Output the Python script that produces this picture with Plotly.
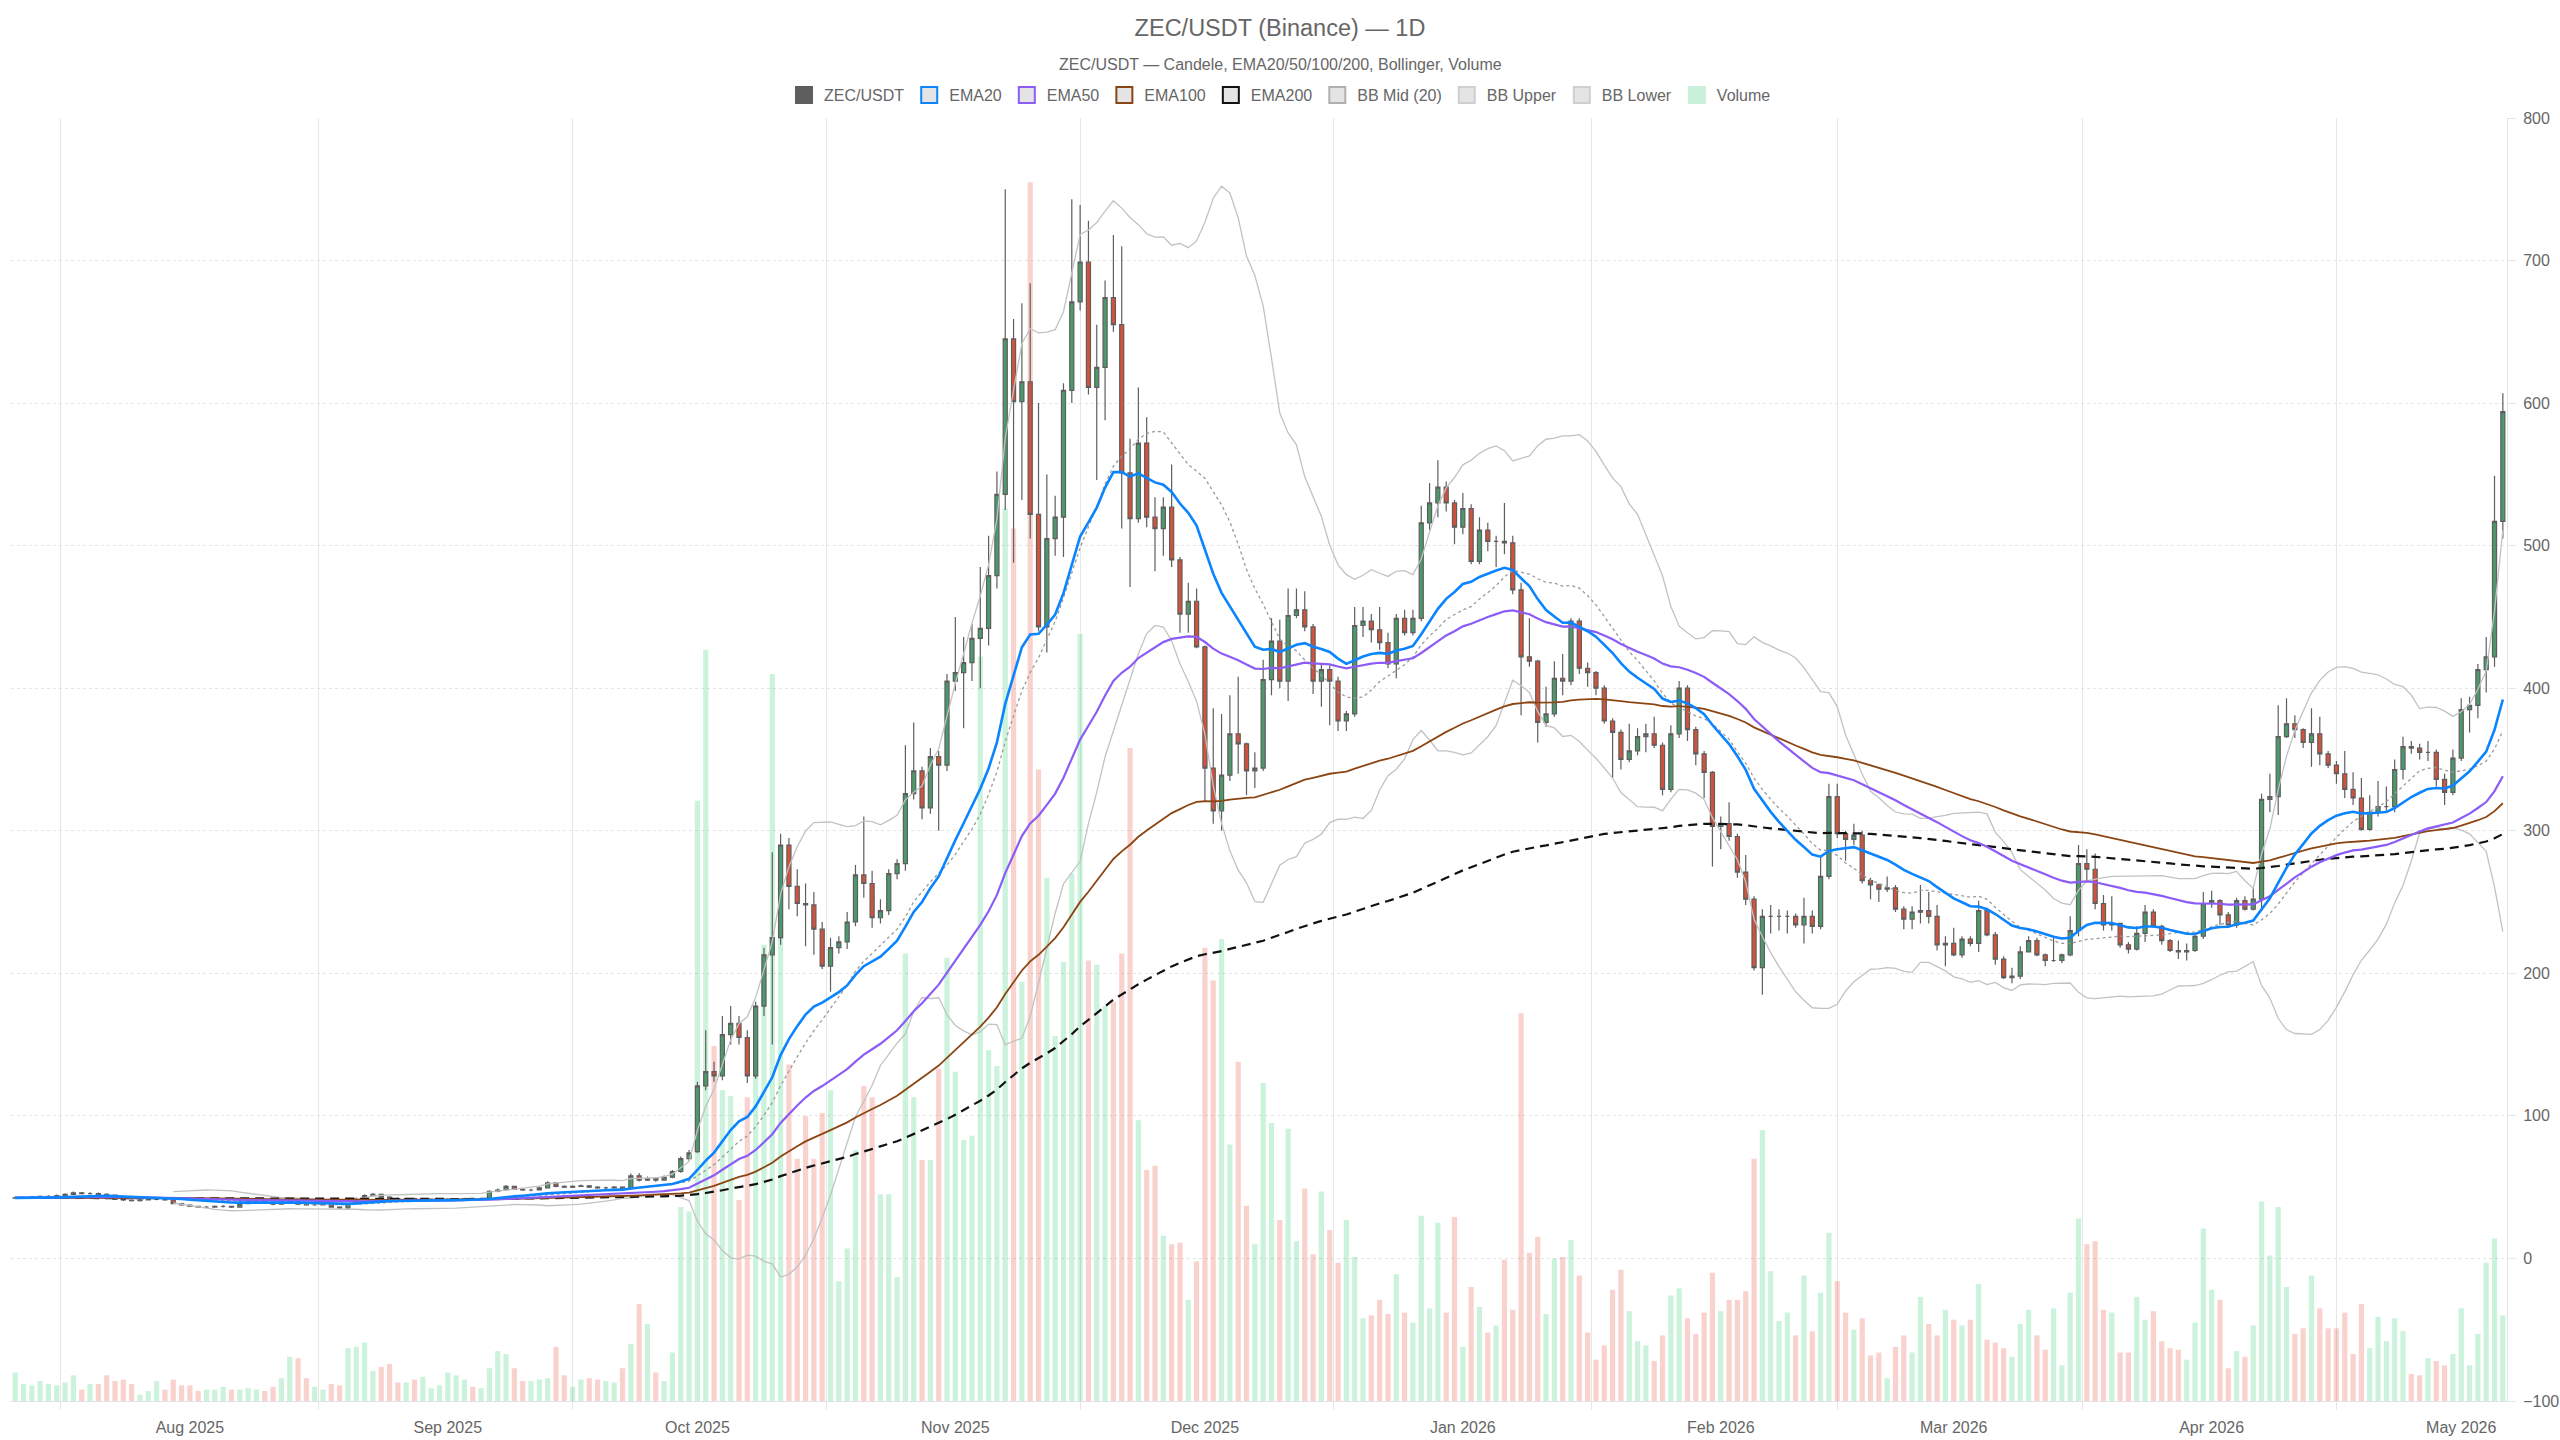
import pandas as pd
import plotly.graph_objects as go

# ---------------- data (daily candles, ZEC/USDT) ----------------
start_date = "2025-07-11"

# Jul 11 .. Sep 30 2025
open_jul_sep = [42.3, 42.5, 42.5, 43.0, 43.5, 43.5, 44.0, 45.0, 46.0, 45.5, 45.5, 45.0, 44.5, 41.5, 41.0, 40.5, 41.0, 41.5, 41.5, 41.0, 38.5,
                37.5, 36.5, 36.0, 36.0, 36.5, 36.5, 36.0, 38.5, 40.0, 40.0, 39.5, 38.0, 39.5, 40.0, 38.0, 37.5, 37.5, 38.0, 36.0, 35.5, 38.5,
                42.0, 44.0, 45.0, 43.0, 42.0, 41.5, 42.0, 41.5, 41.5, 41.5,
                41.5, 41.5, 41.5, 42.0, 41.5, 41.5, 47.0, 48.0, 50.5, 48.5, 48.0, 48.0, 49.5, 53.0, 50.5, 50.0, 50.5, 51.0, 50.0, 49.5, 49.5,
                50.0, 49.0, 58.0, 55.0, 56.0, 55.0, 57.0, 61.0, 70.0]
high_jul_sep = [43.2, 43.3, 43.6, 44.2, 44.4, 44.8, 45.8, 47.0, 46.6, 46.4, 46.2, 45.8, 44.9, 42.2, 41.6, 41.7, 42.2, 42.3, 42.0, 41.3, 39.0,
                38.0, 37.0, 36.8, 37.2, 37.3, 37.0, 39.0, 40.8, 40.9, 40.6, 39.9, 40.2, 40.9, 40.3, 38.6, 38.2, 38.6, 38.3, 36.6, 39.1, 42.8,
                45.0, 45.9, 45.5, 43.6, 42.7, 42.6, 42.5, 42.2, 42.1, 42.2,
                42.3, 42.1, 42.6, 42.4, 42.3, 47.8, 49.0, 51.5, 51.0, 49.2, 48.9, 50.4, 54.2, 53.5, 51.2, 51.3, 51.9, 51.5, 50.6, 50.3, 50.8,
                50.5, 59.5, 60.0, 57.5, 56.8, 58.2, 62.0, 71.5, 76.0]
low_jul_sep = [41.8, 41.9, 42.1, 42.6, 42.8, 43.0, 43.6, 44.6, 44.9, 44.8, 44.3, 43.8, 41.0, 40.3, 39.9, 40.0, 40.6, 40.8, 40.4, 38.0, 37.0,
               36.0, 35.4, 35.3, 35.6, 35.8, 35.4, 35.7, 38.1, 39.3, 38.9, 37.4, 37.6, 39.0, 37.5, 37.0, 36.9, 37.1, 35.5, 34.6, 34.3, 38.2,
               41.6, 43.5, 42.5, 41.4, 41.0, 41.0, 40.9, 40.9, 40.8, 40.9,
               40.9, 40.8, 41.0, 40.9, 41.0, 41.2, 46.4, 47.6, 48.0, 47.3, 47.2, 47.6, 49.1, 50.0, 49.4, 49.5, 50.1, 49.5, 48.9, 48.8, 49.0,
               48.4, 48.6, 54.0, 54.3, 53.8, 54.5, 56.2, 60.2, 68.5]
close_jul_sep = [42.5, 42.5, 43.0, 43.5, 43.5, 44.0, 45.0, 46.0, 45.5, 45.5, 45.0, 44.5, 41.5, 41.0, 40.5, 41.0, 41.5, 41.5, 41.0, 38.5, 37.5,
                 36.5, 36.0, 36.0, 36.5, 36.5, 36.0, 38.5, 40.0, 40.0, 39.5, 38.0, 39.5, 40.0, 38.0, 37.5, 37.5, 38.0, 36.0, 35.5, 38.5, 42.0,
                 44.0, 45.0, 43.0, 42.0, 41.5, 42.0, 41.5, 41.5, 41.5, 41.5,
                 41.5, 41.5, 42.0, 41.5, 41.5, 47.0, 48.0, 50.5, 48.5, 48.0, 48.0, 49.5, 53.0, 50.5, 50.0, 50.5, 51.0, 50.0, 49.5, 49.5, 50.0,
                 49.0, 58.0, 55.0, 56.0, 55.0, 57.0, 61.0, 70.0, 74.0]
volume_jul_sep = [20, 12, 11, 14, 12, 11, 13, 18, 8, 12, 12, 18, 14, 15, 12, 4.5, 7, 14, 8, 15, 11,
                  11, 7, 8, 8, 10, 8, 8, 9, 8, 7, 10, 16, 31, 30, 16, 10, 8, 12, 11, 37, 38, 41, 21, 24, 26, 13, 13, 15, 17, 9,
                  11, 20, 18, 15, 10, 9, 23, 35, 33, 23, 14, 14, 15, 16, 38, 18, 10, 15, 16, 15, 14, 13, 23, 40, 68, 54, 20, 14, 34, 136, 133]

# Oct 1 2025 .. May 6 2026
open_oct_may = [
    75, 121, 131, 128, 157, 165, 155, 128, 177, 213, 225, 290, 261, 249, 248, 231, 205, 218, 222, 236, 269, 263, 239, 244, 270, 277, 326, 342, 316, 352, 346,
    405, 411, 418, 435, 442, 479, 536, 645, 601, 615, 522, 443, 505, 520, 609, 671, 699, 611, 625, 674, 655, 551, 519, 572, 520, 512, 527, 490, 452, 461,
    429, 344, 314, 339, 368, 361, 342, 344, 406, 433, 405, 451, 455, 443, 405, 413, 405, 377, 382, 444, 447, 441, 432, 417, 449, 439, 449, 516, 530, 541, 530,
    513, 526, 489, 511, 503, 503, 502, 469, 422, 419, 376, 382, 407, 405, 447, 414, 411, 400, 377, 369, 350, 356, 366, 368, 360, 329, 368, 400, 371, 354, 341,
    303, 305, 296, 271, 252, 204, 240, 240, 240, 240, 234, 240, 233, 268, 324, 298, 294, 297, 265, 262, 259, 260, 245, 238, 243, 244, 240, 220,
    221, 213, 224, 221, 244, 227, 210, 197, 198, 215, 223, 213, 209, 209, 213, 230, 277, 273, 249, 234, 235, 220, 217, 228, 243, 233, 223, 216, 215, 216, 226,
    249, 251, 241, 234, 251, 245, 252, 322, 324, 366, 375, 371, 362, 368, 354, 346, 340, 329, 323, 301, 313, 317, 317, 343, 359, 358, 355, 355, 336, 327,
    351, 385, 388, 413, 422, 517]
high_oct_may = [
    124, 160, 138, 170, 177, 170, 160, 180, 218, 285, 298, 295, 273, 263, 257, 236, 225, 226, 243, 276, 310, 272, 252, 273, 280, 360, 376, 345, 358, 356, 410,
    450, 436, 445, 485, 507, 552, 750, 659, 670, 684, 600, 550, 535, 614, 743, 739, 728, 655, 686, 718, 710, 575, 611, 590, 534, 534, 557, 492, 474, 470,
    430, 386, 382, 395, 408, 362, 355, 420, 449, 448, 470, 470, 468, 445, 417, 416, 408, 384, 457, 457, 452, 457, 439, 452, 455, 455, 528, 544, 560, 545, 532,
    537, 529, 520, 516, 507, 530, 507, 474, 449, 420, 401, 419, 424, 449, 449, 418, 412, 402, 379, 371, 375, 372, 375, 380, 362, 374, 405, 402, 373, 356, 342,
    310, 320, 298, 283, 254, 245, 248, 245, 244, 242, 253, 244, 283, 333, 333, 300, 305, 300, 267, 263, 268, 262, 247, 247, 262, 257, 248, 226,
    232, 226, 226, 251, 246, 229, 212, 204, 219, 226, 225, 214, 225, 214, 240, 290, 287, 284, 255, 254, 235, 222, 233, 248, 245, 234, 224, 223, 221, 228, 257,
    258, 252, 243, 253, 254, 260, 326, 340, 388, 393, 381, 372, 386, 380, 356, 349, 356, 341, 337, 325, 335, 331, 350, 366, 363, 361, 363, 357, 340, 357,
    393, 394, 417, 436, 549, 607]
low_oct_may = [
    74, 118, 124, 125, 150, 150, 123, 126, 170, 150, 220, 245, 240, 219, 213, 203, 187, 214, 217, 233, 253, 232, 235, 241, 266, 272, 322, 308, 312, 300, 342,
    398, 372, 405, 400, 430, 470, 525, 488, 532, 505, 440, 425, 493, 492, 600, 665, 606, 546, 588, 650, 512, 471, 516, 513, 482, 493, 485, 439, 439, 428,
    321, 305, 300, 335, 340, 325, 330, 342, 395, 400, 391, 449, 440, 396, 387, 374, 370, 370, 380, 436, 432, 427, 414, 407, 437, 437, 447, 511, 520, 524, 501,
    508, 487, 487, 496, 485, 494, 466, 381, 415, 362, 373, 380, 395, 402, 410, 401, 395, 375, 337, 343, 348, 353, 355, 358, 325, 327, 365, 363, 346, 323, 275,
    287, 293, 267, 248, 202, 185, 228, 230, 228, 232, 221, 228, 231, 266, 295, 279, 290, 263, 252, 250, 257, 243, 231, 231, 235, 235, 216, 205,
    212, 211, 219, 215, 226, 206, 196, 193, 196, 215, 212, 205, 208, 207, 212, 226, 264, 245, 230, 230, 218, 214, 216, 222, 232, 220, 215, 210, 209, 215, 224,
    246, 234, 233, 232, 244, 244, 245, 313, 311, 365, 365, 358, 345, 346, 344, 333, 323, 318, 300, 300, 310, 314, 313, 336, 354, 350, 349, 331, 318, 325,
    349, 369, 379, 397, 415, 505]
close_oct_may = [
    121, 131, 128, 157, 165, 155, 128, 177, 213, 225, 290, 261, 249, 248, 231, 205, 218, 222, 236, 269, 263, 239, 244, 270, 277, 326, 342, 316, 352, 346, 405,
    411, 418, 435, 442, 479, 536, 645, 601, 615, 522, 443, 505, 520, 609, 671, 699, 611, 625, 674, 655, 551, 519, 572, 520, 512, 527, 490, 452, 461, 429,
    344, 314, 339, 368, 361, 342, 344, 406, 433, 405, 451, 455, 443, 405, 413, 405, 377, 382, 444, 447, 441, 432, 417, 449, 439, 449, 516, 530, 541, 530, 513,
    526, 489, 511, 503, 503, 502, 469, 422, 419, 376, 382, 407, 405, 447, 414, 411, 400, 377, 369, 350, 356, 366, 368, 360, 329, 368, 400, 371, 354, 341, 303,
    305, 296, 271, 252, 204, 240, 240, 240, 240, 234, 240, 233, 268, 324, 298, 294, 297, 265, 262, 259, 260, 245, 238, 243, 244, 240, 220, 221,
    213, 224, 221, 244, 227, 210, 197, 198, 215, 223, 213, 209, 209, 213, 230, 277, 273, 249, 234, 235, 220, 217, 228, 243, 233, 223, 216, 215, 216, 226, 249,
    251, 241, 234, 251, 245, 252, 322, 324, 366, 375, 371, 362, 368, 354, 346, 340, 329, 323, 301, 313, 317, 317, 343, 359, 358, 355, 355, 336, 327, 351,
    385, 388, 413, 422, 517, 594]
volume_oct_may = [
    421, 527, 249, 218, 214, 141, 213, 250, 320, 510, 330, 236, 170, 200, 170, 202, 218, 84, 107, 176, 221, 213, 145, 145, 87, 314, 213, 169, 169, 233, 311,
    231, 183, 186, 522, 246, 235, 626, 612, 294, 855, 443, 367, 256, 308, 370, 538, 309, 306, 277, 280, 314, 458, 197, 162, 165, 116, 110, 111, 71, 98,
    318, 295, 324, 180, 238, 137, 110, 223, 195, 127, 191, 112, 149, 103, 147, 120, 97, 127, 101, 58, 60, 71, 61, 89, 62, 55, 130, 65, 125, 62, 129,
    38, 80, 66, 48, 53, 99, 64, 272, 104, 115, 61, 100, 101, 113, 88, 48, 29, 39, 78, 92, 63, 42, 39, 28, 46, 74, 79, 58, 47, 62, 90,
    63, 71, 71, 77, 170, 190, 91, 56, 62, 46, 88, 49, 76, 118, 84, 62, 50, 58, 32, 34, 16, 38, 46, 34, 73, 54, 46, 64,
    57, 53, 57, 82, 43, 41, 37, 31, 54, 64, 46, 36, 65, 25, 76, 128, 110, 112, 64, 62, 34, 34, 73, 57, 63, 42, 37, 36, 29, 55, 121,
    78, 71, 23, 35, 31, 53, 140, 102, 136, 80, 47, 51, 88, 65, 51, 51, 62, 33, 68, 37, 59, 42, 58, 49, 19, 18, 30, 28, 25, 33,
    65, 25, 47, 97, 114, 60]

open_ = open_jul_sep + open_oct_may
high = high_jul_sep + high_oct_may
low = low_jul_sep + low_oct_may
close = close_jul_sep + close_oct_may
volume = volume_jul_sep + volume_oct_may

# ---------------- indicators ----------------
dates = pd.date_range(start_date, periods=len(close), freq="D")
s = pd.Series(close, index=dates, dtype=float)
emas = {n: s.ewm(span=n, adjust=False).mean() for n in (20, 50, 100, 200)}
bb_mid = s.rolling(20).mean()
bb_sd = s.rolling(20).std(ddof=0)
bb_up = bb_mid + 2 * bb_sd
bb_lo = bb_mid - 2 * bb_sd

GREEN = "#4a9a6b"
RED = "#d4523b"
WICK = "#5e5e5e"
VOL_UP = "rgba(46,204,113,0.25)"
VOL_DN = "rgba(231,76,60,0.25)"
ema_style = {20: dict(color="#0a84ff", width=2.6),
             50: dict(color="#8b5cf6", width=2.2),
             100: dict(color="#8b4513", width=1.8),
             200: dict(color="#111111", width=2.2, dash="9px,6px")}

vol_colors = [VOL_UP if c >= o else VOL_DN for o, c in zip(open_, close)]

fig = go.Figure()
fig.add_trace(go.Bar(x=dates, y=volume, marker=dict(color=vol_colors, line=dict(width=0)),
                     width=0.62 * 86400000, yaxis="y", showlegend=False, legendgroup="vol", name="Volume",
                     hoverinfo="skip"))
fig.add_trace(go.Scatter(x=dates, y=bb_lo, mode="lines", line=dict(color="#c2c2c2", width=1.3),
                         yaxis="y2", showlegend=False, legendgroup="bbl", name="BB Lower"))
fig.add_trace(go.Scatter(x=dates, y=bb_up, mode="lines", line=dict(color="#c2c2c2", width=1.3),
                         yaxis="y2", showlegend=False, legendgroup="bbu", name="BB Upper"))
fig.add_trace(go.Scatter(x=dates, y=bb_mid, mode="lines", line=dict(color="#9a9a9a", width=1.3, dash="3px,3px"),
                         yaxis="y2", showlegend=False, legendgroup="bbm", name="BB Mid (20)"))
for n in (200, 100, 50, 20):
    fig.add_trace(go.Scatter(x=dates, y=emas[n], mode="lines", line=ema_style[n], yaxis="y2",
                             showlegend=False, legendgroup=f"ema{n}", name=f"EMA{n}"))
fig.add_trace(go.Candlestick(x=dates, open=open_, high=high, low=low, close=close, yaxis="y2",
                             increasing=dict(fillcolor=GREEN, line=dict(color=WICK, width=1.2)),
                             decreasing=dict(fillcolor=RED, line=dict(color=WICK, width=1.2)),
                             whiskerwidth=0, showlegend=False, legendgroup="px", name="ZEC/USDT"))

# legend entries (box style)
legend_items = [("ZEC/USDT", "#5e5e5e", "#5e5e5e", "px"),
                ("EMA20", "#e4e4e4", "#0a84ff", "ema20"),
                ("EMA50", "#e4e4e4", "#8b5cf6", "ema50"),
                ("EMA100", "#e4e4e4", "#8b4513", "ema100"),
                ("EMA200", "#e4e4e4", "#111111", "ema200"),
                ("BB Mid (20)", "#e4e4e4", "#b0b0b0", "bbm"),
                ("BB Upper", "#e4e4e4", "#cfcfcf", "bbu"),
                ("BB Lower", "#e4e4e4", "#cfcfcf", "bbl"),
                ("Volume", "#c9f1d9", "#c9f1d9", "vol")]
for name, fill, border, grp in legend_items:
    fig.add_trace(go.Scatter(x=[None], y=[None], mode="markers", name=name, legendgroup=grp, yaxis="y2",
                             marker=dict(symbol="square", size=16, color=fill, line=dict(color=border, width=2))))

months = pd.date_range("2025-07-01", "2026-06-01", freq="MS")
mid_months = [m0 + (m1 - m0) / 2 for m0, m1 in zip(months[:-1], months[1:])]

W, H = 2560, 1440
ML, MR, MT, MB = 11, 53, 118, 39
FONT = "Liberation Sans, Arial, Helvetica, sans-serif"
fig.update_layout(
    width=W, height=H,
    margin=dict(l=ML, r=MR, t=MT, b=MB, autoexpand=False),
    paper_bgcolor="white", plot_bgcolor="white",
    font=dict(family=FONT, size=16, color="#666666"),
    title=dict(text="ZEC/USDT (Binance) — 1D", x=0.5, xanchor="center", xref="container",
               y=1 - 28 / H, yanchor="middle", yref="container",
               font=dict(size=23.5, color="#666666", family=FONT)),
    legend=dict(orientation="h", x=0.5, xanchor="center", xref="container",
                y=1 - 95 / H, yanchor="middle", yref="container",
                font=dict(size=16, color="#666666"), itemwidth=30, traceorder="normal"),
    annotations=[dict(text="ZEC/USDT — Candele, EMA20/50/100/200, Bollinger, Volume",
                      x=(W / 2 - ML) / (W - ML - MR), xref="paper",
                      y=(H - MB - 65) / (H - MT - MB), yref="paper", xanchor="center", yanchor="middle",
                      showarrow=False, font=dict(size=16, color="#666666"))],
    xaxis=dict(type="date", range=["2025-07-10 12:00", "2026-05-06 12:00"], tickformat="%b %Y", dtick="M1",
               tick0="2025-08-01", showgrid=False, ticks="", showline=True, linecolor="#e2e2e2", linewidth=1,
               rangeslider=dict(visible=False), ticklabelstandoff=12, tickfont=dict(size=16, color="#666666"),
               minor=dict(tickvals=mid_months, showgrid=True, gridcolor="#e6e6e6", gridwidth=1,
                          ticks="outside", ticklen=8, tickcolor="#e6e6e6")),
    yaxis=dict(range=[0, 900], visible=False, fixedrange=True),
    yaxis2=dict(overlaying="y", side="right", range=[-100, 800], dtick=100, tick0=0, showgrid=True,
                gridcolor="#e4e4e4", griddash="dot", zeroline=False, showline=True, linecolor="#e2e2e2",
                ticks="outside", ticklen=8, tickcolor="#e6e6e6", ticklabelstandoff=4,
                tickfont=dict(size=16, color="#666666")),
    hovermode="x",
)

fig.write_html("out.html")
